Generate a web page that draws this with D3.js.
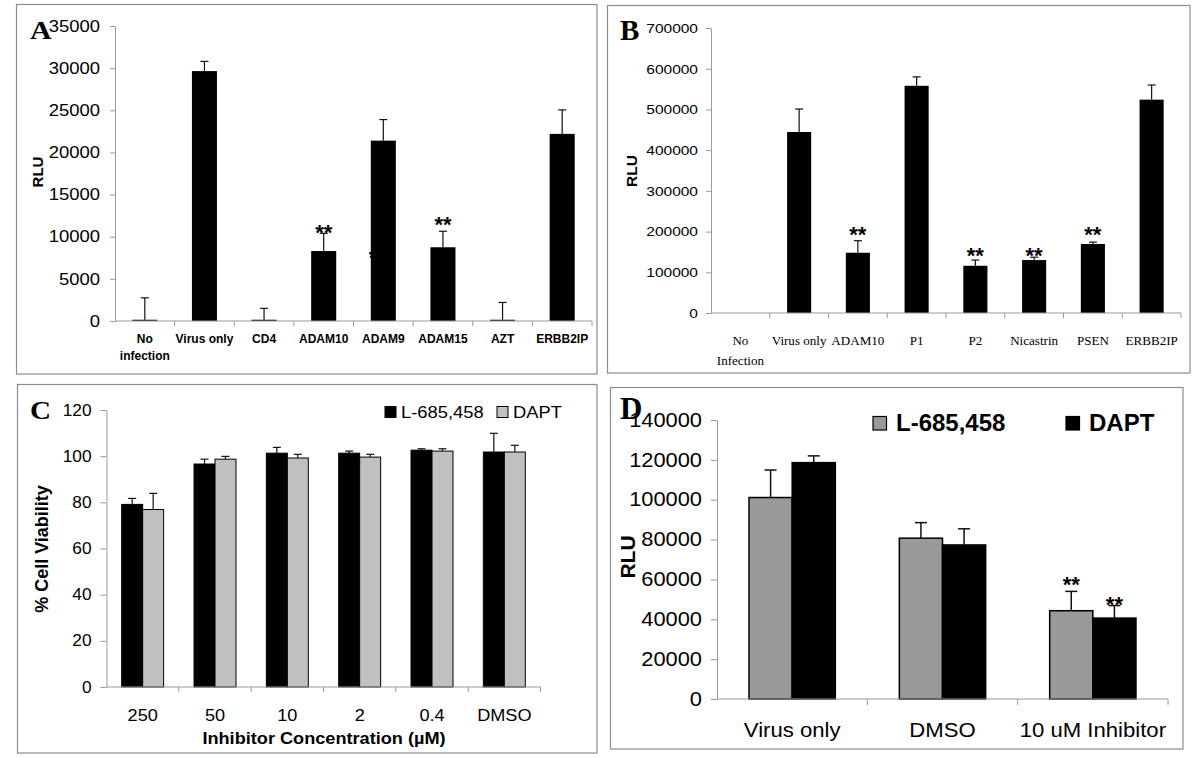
<!DOCTYPE html>
<html><head><meta charset="utf-8">
<script src="https://cdn.jsdelivr.net/npm/d3@7"></script>
<style>body{margin:0;background:#fff} svg{display:block}</style>
</head><body>
<svg id="chart" width="1200" height="758"></svg>
<script>
// ---------- DATA ----------
// Panel A
const aCategories = ["No\ninfection","Virus only","CD4","ADAM10","ADAM9","ADAM15","AZT","ERBB2IP"];
const aValues = [150,29650,150,8300,21400,8750,150,22200];
const aErrors = [2600,1150,1350,2100,2500,1900,2050,2850];
const aTicks = [0,5000,10000,15000,20000,25000,30000,35000];
const aStars = [
  {cat:"ADAM10", at:11150},
  {cat:"ADAM9", at:8160, behind:true, dx:-6},
  {cat:"ADAM15", at:12100},
  {cat:"ADAM15", at:7950, behind:true, dx:-2}
];
// Panel B
const bCategories = ["No\nInfection","Virus only","ADAM10","P1","P2","Nicastrin","PSEN","ERBB2IP"];
const bValues = [0,444600,148000,558000,116000,130000,169500,524000];
const bErrors = [0,56400,29600,22000,14000,7000,4500,36000];
const bTicks = [0,100000,200000,300000,400000,500000,600000,700000];
const bStars = [{cat:"ADAM10",at:206000},{cat:"P2",at:154000},{cat:"Nicastrin",at:154000},{cat:"PSEN",at:206000}];
// Panel C
const cCategories = ["250","50","10","2","0.4","DMSO"];
const cSeries = ["L-685,458","DAPT"];
const cL685 = [79.1,96.6,101.3,101.3,102.6,101.8];
const cL685Err = [2.6,2.1,2.5,0.9,0.6,8.1];
const cDAPT = [76.9,98.7,99.2,99.6,102.2,101.8];
const cDAPTErr = [7.0,1.2,1.6,1.2,1.0,2.9];
const cTicks = [0,20,40,60,80,100,120];
// Panel D
const dCategories = ["Virus only","DMSO","10 uM Inhibitor"];
const dSeries = ["L-685,458","DAPT"];
const dL685 = [101100,80700,44300];
const dL685Err = [13800,7800,9700];
const dDAPT = [118600,77300,40600];
const dDAPTErr = [3400,8100,6300];
const dTicks = [0,20000,40000,60000,80000,100000,120000,140000];
const dStars = [{series:0,cat:"10 uM Inhibitor",at:60200},{series:1,cat:"10 uM Inhibitor",at:49700}];

// ---------- HELPERS ----------
const svg = d3.select("#chart");
const SANS = "'Liberation Sans', Arial, sans-serif";
const SERIF = "'Liberation Serif', 'Times New Roman', serif";
const AX = "#9a9a9a";
const BORDER = "#8c8c8c";

function text(g, x, y, s, o) {
  o = o || {};
  const t = g.append("text")
    .attr("transform", `translate(${x},${y})` + (o.rotate ? ` rotate(${o.rotate})` : "") + ` scale(${o.sx||1},1)`)
    .attr("font-family", o.family || SANS)
    .attr("font-size", o.size || 12)
    .attr("font-weight", o.weight || "normal")
    .attr("text-anchor", o.anchor || "start")
    .attr("fill", o.fill || "#000")
    .text(s);
  if (o.dy) t.attr("dy", o.dy);
  return t;
}
function box(x, y, w, h) {
  svg.append("rect").attr("x", x).attr("y", y).attr("width", w).attr("height", h)
    .attr("fill", "none").attr("stroke", BORDER).attr("stroke-width", 1.2);
}
function yAxis(g, y, x0, ticks, o) {
  const ax = d3.axisLeft(y).tickValues(ticks).tickSize(o.tick).tickSizeOuter(0)
    .tickPadding(o.pad).tickFormat(d3.format("d"));
  g.append("g").attr("transform", `translate(${x0},0)`).call(ax).call(s => {
    s.select(".domain").attr("stroke", AX);
    s.selectAll(".tick line").attr("stroke", AX);
    s.selectAll(".tick text").attr("font-family", SANS).attr("font-size", o.size)
      .attr("fill", "#000").attr("transform", `scale(${o.sx},1)`)
      .attr("x", -(o.tick + o.pad) / o.sx);
  });
}
function xAxis(g, x, y0, tick) {
  const x0 = x.range()[0], x1 = x.range()[1];
  g.append("line").attr("x1", x0).attr("x2", x1).attr("y1", y0).attr("y2", y0).attr("stroke", AX);
  const bounds = x.domain().map(d => x(d)).concat([x1]);
  g.selectAll(null).data(bounds.slice(1)).enter().append("line")
    .attr("x1", d => d).attr("x2", d => d).attr("y1", y0).attr("y2", y0 + tick).attr("stroke", AX);
}
function errBar(g, cx, yTop, yBar, cap, w) {
  g.append("line").attr("x1", cx).attr("x2", cx).attr("y1", yBar).attr("y2", yTop)
    .attr("stroke", "#111").attr("stroke-width", w || 1.2);
  g.append("line").attr("x1", cx - cap / 2).attr("x2", cx + cap / 2).attr("y1", yTop).attr("y2", yTop)
    .attr("stroke", "#111").attr("stroke-width", w || 1.2);
}
function stars(g, cx, cy, size) {
  text(g, cx, cy + size * 0.57, "**", {size: size, weight: "bold", anchor: "middle"});
}
function catLabel(g, cx, y, s, o, lh) {
  s.split("\n").forEach((line, i) => text(g, cx, y + i * lh, line, Object.assign({anchor: "middle"}, o)));
}

// ---------- PANEL A ----------
(function () {
  box(16.5, 4.5, 580.5, 369.5);
  const g = svg.append("g");
  const x = d3.scaleBand().domain(aCategories).range([115, 592]);
  const y = d3.scaleLinear().domain([0, 35000]).range([321, 26]);
  const bw = x.bandwidth() * 0.42;
  const cx = c => x(c) + x.bandwidth() / 2;
  // stars hidden behind bars
  aStars.filter(s => s.behind).forEach(s => stars(g, cx(s.cat) + (s.dx || 0), y(s.at), 22));
  g.selectAll(null).data(aCategories).enter().append("rect")
    .attr("x", d => cx(d) - bw / 2).attr("width", bw)
    .attr("y", (d, i) => y(aValues[i])).attr("height", (d, i) => y(0) - y(aValues[i]))
    .attr("fill", "#000");
  aCategories.forEach((c, i) => errBar(g, cx(c), y(aValues[i] + aErrors[i]), y(aValues[i]), 8));
  yAxis(g, y, 115, aTicks, {tick: 5, pad: 10, size: 16.5, sx: 1.12});
  xAxis(g, x, y(0), 5);
  aStars.filter(s => !s.behind).forEach(s => stars(g, cx(s.cat), y(s.at), 22));
  aCategories.forEach(c => catLabel(g, cx(c), 343, c, {size: 12, weight: "bold"}, 17));
  text(g, 38, 172, "RLU", {size: 15, weight: "bold", anchor: "middle", rotate: -90, dy: "0.35em"});
  text(g, 30, 39, "A", {size: 26, weight: "bold", family: SERIF, sx: 1.15});
})();

// ---------- PANEL B ----------
(function () {
  box(607.5, 5.5, 582.5, 367.5);
  const g = svg.append("g");
  const x = d3.scaleBand().domain(bCategories).range([711, 1181]);
  const y = d3.scaleLinear().domain([0, 700000]).range([313, 28]);
  const bw = x.bandwidth() * 0.41;
  const cx = c => x(c) + x.bandwidth() / 2;
  g.selectAll(null).data(bCategories).enter().append("rect")
    .attr("x", d => cx(d) - bw / 2).attr("width", bw)
    .attr("y", (d, i) => y(bValues[i])).attr("height", (d, i) => y(0) - y(bValues[i]))
    .attr("fill", "#000");
  bCategories.forEach((c, i) => { if (bErrors[i] > 0) errBar(g, cx(c), y(bValues[i] + bErrors[i]), y(bValues[i]), 8); });
  yAxis(g, y, 711, bTicks, {tick: 5, pad: 8, size: 13.5, sx: 1.15});
  xAxis(g, x, y(0), 5);
  bStars.forEach(s => stars(g, cx(s.cat), y(s.at), 22));
  bCategories.forEach(c => catLabel(g, cx(c), 345, c, {size: 13.5, family: SERIF, sx: 0.97}, 20));
  text(g, 632, 171, "RLU", {size: 15.5, weight: "bold", anchor: "middle", rotate: -90, dy: "0.35em"});
  text(g, 620, 40, "B", {size: 29, weight: "bold", family: SERIF});
})();

// ---------- PANEL C ----------
(function () {
  box(17.5, 384.5, 579.5, 368.5);
  const g = svg.append("g");
  const x = d3.scaleBand().domain(cCategories).range([106.5, 540.5]);
  const y = d3.scaleLinear().domain([0, 120]).range([687, 410]);
  const bw = x.bandwidth() * 0.29;
  const cx = c => x(c) + x.bandwidth() / 2;
  const series = [
    {name: cSeries[0], vals: cL685, errs: cL685Err, fill: "#000", off: -1},
    {name: cSeries[1], vals: cDAPT, errs: cDAPTErr, fill: "#c0c0c0", off: 0}
  ];
  series.forEach(s => {
    g.selectAll(null).data(cCategories).enter().append("rect")
      .attr("x", d => cx(d) + s.off * bw).attr("width", bw)
      .attr("y", (d, i) => y(s.vals[i])).attr("height", (d, i) => y(0) - y(s.vals[i]))
      .attr("fill", s.fill).attr("stroke", "#000").attr("stroke-width", 1);
    cCategories.forEach((c, i) => errBar(g, cx(c) + s.off * bw + bw / 2, y(s.vals[i] + s.errs[i]), y(s.vals[i]), 8));
  });
  yAxis(g, y, 106.5, cTicks, {tick: 6, pad: 9, size: 16, sx: 1.08});
  xAxis(g, x, y(0), 5);
  cCategories.forEach(c => text(g, cx(c), 721, c, {size: 16.5, anchor: "middle", sx: 1.1}));
  text(g, 324, 744, "Inhibitor Concentration (\u00b5M)", {size: 16.5, weight: "bold", anchor: "middle", sx: 1.1});
  text(g, 42, 549, "% Cell Viability", {size: 18, weight: "bold", anchor: "middle", rotate: -90, dy: "0.35em"});
  // legend
  const lx = [385, 497];
  series.forEach((s, i) => {
    g.append("rect").attr("x", lx[i]).attr("y", 406.5).attr("width", 11).attr("height", 11)
      .attr("fill", s.fill).attr("stroke", "#000").attr("stroke-width", 1);
    text(g, lx[i] + 16, 417.5, s.name, {size: 17, sx: 1.08});
  });
  text(g, 30, 419, "C", {size: 26, weight: "bold", family: SERIF, sx: 1.12});
})();

// ---------- PANEL D ----------
(function () {
  box(610.5, 387.5, 572.5, 361.5);
  const g = svg.append("g");
  const x = d3.scaleBand().domain(dCategories).range([717, 1168]);
  const y = d3.scaleLinear().domain([0, 140000]).range([699, 420]);
  const bw = x.bandwidth() * 0.287;
  const cx = c => x(c) + x.bandwidth() / 2;
  const series = [
    {name: dSeries[0], vals: dL685, errs: dL685Err, fill: "#999999", off: -1},
    {name: dSeries[1], vals: dDAPT, errs: dDAPTErr, fill: "#000", off: 0}
  ];
  series.forEach(s => {
    g.selectAll(null).data(dCategories).enter().append("rect")
      .attr("x", d => cx(d) + s.off * bw).attr("width", bw)
      .attr("y", (d, i) => y(s.vals[i])).attr("height", (d, i) => y(0) - y(s.vals[i]))
      .attr("fill", s.fill).attr("stroke", "#000").attr("stroke-width", 1.5);
    dCategories.forEach((c, i) => errBar(g, cx(c) + s.off * bw + bw / 2, y(s.vals[i] + s.errs[i]), y(s.vals[i]), 12, 1.5));
  });
  yAxis(g, y, 717, dTicks, {tick: 6, pad: 9, size: 19.5, sx: 1.12});
  xAxis(g, x, y(0), 6);
  dStars.forEach(s => stars(g, cx(s.cat) + series[s.series].off * bw + bw / 2, y(s.at), 22));
  dCategories.forEach(c => text(g, cx(c), 737, c, {size: 20.5, anchor: "middle", sx: 1.08}));
  text(g, 628, 557, "RLU", {size: 21, weight: "bold", anchor: "middle", rotate: -90, dy: "0.35em"});
  // legend
  const lx = [873, 1066];
  series.forEach((s, i) => {
    g.append("rect").attr("x", lx[i]).attr("y", 416.5).attr("width", 13.5).attr("height", 13.5)
      .attr("fill", s.fill).attr("stroke", "#000").attr("stroke-width", 1.2);
    text(g, lx[i] + 23, 431, s.name, {size: 24, weight: "bold"});
  });
  text(g, 620, 419, "D", {size: 31, weight: "bold", family: SERIF});
})();
</script>
</body></html>
